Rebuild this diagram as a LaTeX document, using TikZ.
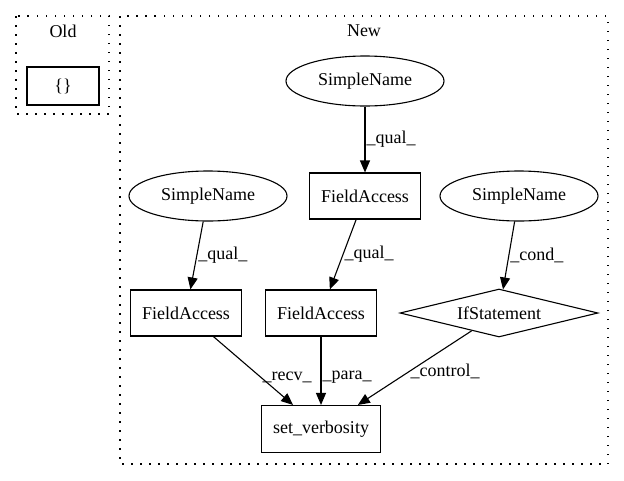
\documentclass[tikz,border=0pt]{standalone}
\usepackage{fontspec}
\setmainfont{Liberation Serif}
\usetikzlibrary{shapes.geometric, arrows.meta, positioning}

\begin{document}
\begin{tikzpicture}[
    x=1pt, y=-1pt,
    astbox/.style={draw, line width=1.1pt, minimum width=111pt, minimum height=46pt, inner sep=0pt, font=\fontsize{18pt}{21pt}\selectfont},
    astname/.style={ellipse, draw, line width=1.1pt, minimum width=158pt, minimum height=50pt, inner sep=0pt, font=\fontsize{18pt}{21pt}\selectfont},
    astcond/.style={diamond, draw, aspect=4, line width=1.1pt, minimum width=198pt, minimum height=48pt, inner sep=0pt, font=\fontsize{18pt}{21pt}\selectfont},
    elabel/.style={anchor=west, inner sep=1pt, font=\fontsize{18pt}{21pt}\selectfont},
    title/.style={font=\fontsize{18pt}{21pt}\selectfont},
    cluster/.style={draw, line width=1.3pt, dash pattern=on 1.5pt off 7.5pt},
    arrow/.style={-{Triangle[length=12pt, width=10pt]}, line width=1.1pt}
]
    \useasboundingbox (0,0) rectangle (624,480);

    % clusters
    \draw[cluster] (16,16) rectangle (109,114);
    \node[title] (old) at (63,31) {Old};
    \draw[cluster] (120,16) rectangle (608,464);
    \node[title] (new) at (364,31) {New};

    \node[astbox, minimum width=72pt, minimum height=38pt] (empty) at (63,86) {\{\}};

    \node[astname] (sn1) at (365,81) {SimpleName};
    \node[astbox] (fa1) at (365,196) {FieldAccess};
    \node[astname] (sn2) at (208,196) {SimpleName};
    \node[astname] (sn3) at (519,196) {SimpleName};

    \node[astbox] (fa2) at (186,313) {FieldAccess};
    \node[astbox] (fa3) at (321,313) {FieldAccess};
    \node[astcond] (ifs) at (499,313) {IfStatement};

    \node[astbox, minimum width=119pt, minimum height=47pt] (setv) at (321,429) {set\_verbosity};

    \draw[arrow] (sn1) -- node[elabel] {\_qual\_} (fa1);
    \draw[arrow] (fa1) -- node[elabel] {\_qual\_} (fa3);
    \draw[arrow] (sn2) -- node[elabel] {\_qual\_} (fa2);
    \draw[arrow] (sn3) -- node[elabel] {\_cond\_} (ifs);
    \draw[arrow] (fa2) -- node[elabel, pos=0.6] {\_recv\_} (setv);
    \draw[arrow] (fa3) -- node[elabel, pos=0.6] {\_para\_} (setv);
    \draw[arrow] (ifs) -- node[elabel, pos=0.55] {\_control\_} (setv);
\end{tikzpicture}
\end{document}
